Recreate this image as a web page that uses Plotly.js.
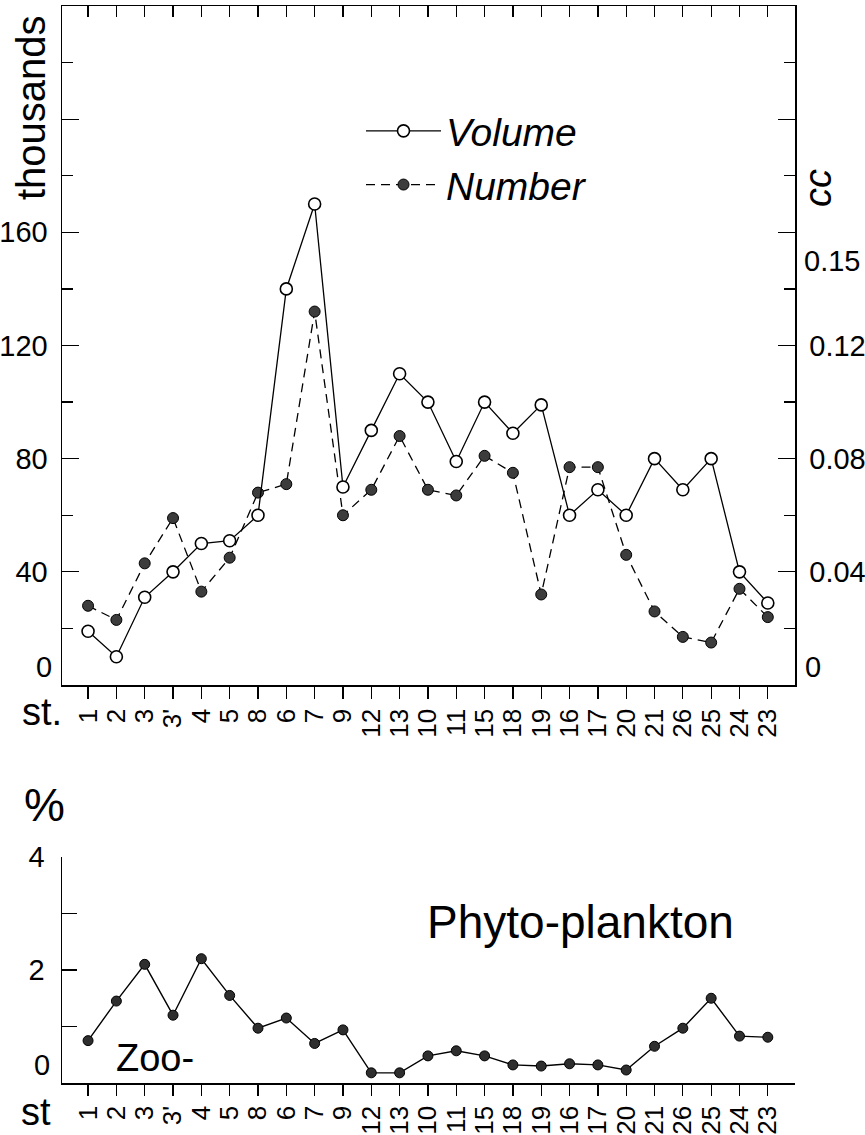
<!DOCTYPE html>
<html>
<head>
<meta charset="utf-8">
<script src="https://cdn.plot.ly/plotly-3.0.1.min.js"></script>
<style>
html,body{margin:0;padding:0;background:#fff;}
#chart{width:865px;height:1135px;}
</style>
</head>
<body>
<div id="chart"></div>
<script>
// ---- data ----
const stations = ['1','2','3',"3'",'4','5','8','6','7','9','12','13','10','11','15','18','19','16','17','20','21','26','25','24','23'];
// Volume of plankton (cc), right axis of upper panel
const volumeCC = [0.019,0.010,0.031,0.040,0.050,0.051,0.060,0.140,0.170,0.070,0.090,0.110,0.100,0.079,0.100,0.089,0.099,0.060,0.069,0.060,0.080,0.069,0.080,0.040,0.029];
// Number of individuals (thousands), left axis of upper panel
const numberK = [28,23,43,59,33,45,68,71,132,60,69,88,69,67,81,75,32,77,77,46,26,17,15,34,24];
// Zooplankton share (%), lower panel
const zooPct = [0.75,1.45,2.1,1.2,2.2,1.55,0.97,1.15,0.7,0.94,0.18,0.18,0.48,0.57,0.48,0.32,0.3,0.34,0.32,0.23,0.65,0.97,1.5,0.83,0.81];

const leftTicksTop = [0,40,80,120,160,200,240];
const leftTextTop = ['','40','80','120','160','',''];
const rightTicksTop = [0,0.04,0.08,0.12,0.16,0.20,0.24];
const rightTextTop = ['','0.04','0.08','0.12','','',''];
const leftTicksBot = [0,2,4];
const leftTextBot = ['','2','4'];
const rightTicksBot = [96,98,100];
const rightTextBot = ['96.','98','100'];

// ---- geometry helpers (pixels -> paper) ----
const ML = 62, MR = 70, MT = 6, MB = 52, W = 865, H = 1135;
const PW = W - ML - MR, PH = H - MT - MB;
const xp = px => (px - ML) / PW;
const yp = py => (H - MB - py) / PH;

const FONT = "Liberation Sans, Arial, sans-serif";
const XR = [-0.92, 24.96];
const topDom = [yp(685), 1];
const botDom = [0, yp(857)];

const traces = [
  {
    x: stations, y: volumeCC, xaxis: 'x', yaxis: 'y2', name: 'Volume',
    mode: 'lines+markers',
    line: {color: '#000', width: 1.3},
    marker: {symbol: 'circle', size: 12, color: '#fff', line: {color: '#000', width: 1.6}},
    cliponaxis: false
  },
  {
    x: stations, y: numberK, xaxis: 'x', yaxis: 'y', name: 'Number',
    mode: 'lines+markers',
    line: {color: '#000', width: 1.3, dash: '9px,6px'},
    marker: {symbol: 'circle', size: 11, color: '#3c3c3c', line: {color: '#000', width: 1}},
    cliponaxis: false
  },
  {
    // invisible companion so the top frame axis is bound to the same categories
    x: stations, y: numberK, xaxis: 'x3', yaxis: 'y', name: 'frame',
    mode: 'lines', opacity: 0, showlegend: false, hoverinfo: 'skip',
    line: {color: 'rgba(0,0,0,0)', width: 0}
  },
  {
    x: stations, y: zooPct, xaxis: 'x2', yaxis: 'y3', name: 'Zoo',
    mode: 'lines+markers', showlegend: false,
    line: {color: '#000', width: 1.4},
    marker: {symbol: 'circle', size: 10, color: '#2e2e2e', line: {color: '#000', width: 1}},
    cliponaxis: false
  }
];

const tickFont = {family: FONT, size: 29, color: '#000'};
const xTickFont = {family: FONT, size: 26, color: '#000'};

const layout = {
  width: W, height: H,
  margin: {l: ML, r: MR, t: MT, b: MB},
  paper_bgcolor: '#fff', plot_bgcolor: '#fff',
  showlegend: true,
  legend: {
    x: xp(361), y: yp(99), xanchor: 'left', yanchor: 'top',
    bgcolor: 'rgba(0,0,0,0)', itemwidth: 75,
    font: {family: FONT, size: 39, style: 'italic', color: '#000'},
    traceorder: 'normal'
  },
  xaxis: {
    type: 'category', range: XR, domain: [0, 1], anchor: 'y',
    tickmode: 'linear', tick0: 0, dtick: 1,
    showline: true, linecolor: '#000', linewidth: 1.5,
    ticks: 'outside', ticklen: 12, tickwidth: 1.3, tickcolor: '#000',
    tickangle: -90, tickfont: xTickFont, showgrid: false, zeroline: false
  },
  xaxis3: {
    type: 'category', range: XR, overlaying: 'x', side: 'top', anchor: 'y',
    tickmode: 'linear', tick0: 0, dtick: 1,
    showline: true, linecolor: '#000', linewidth: 1.5,
    ticks: 'inside', ticklen: 11, tickwidth: 1.3, tickcolor: '#000',
    showticklabels: false, showgrid: false, zeroline: false
  },
  yaxis: {
    domain: topDom, range: [0, 240], anchor: 'x',
    tickmode: 'array', tickvals: leftTicksTop, ticktext: leftTextTop,
    ticks: 'inside', ticklen: 17, tickwidth: 1.3, tickcolor: '#000',
    minor: {dtick: 20, ticks: 'inside', ticklen: 11, tickwidth: 1.3, tickcolor: '#000'},
    showline: true, linecolor: '#000', linewidth: 1.5,
    tickfont: tickFont, ticklabelstandoff: 7,
    showgrid: false, zeroline: false
  },
  yaxis2: {
    range: [0, 0.24], overlaying: 'y', side: 'right', anchor: 'x',
    tickmode: 'array', tickvals: rightTicksTop, ticktext: rightTextTop,
    ticks: 'inside', ticklen: 17, tickwidth: 1.3, tickcolor: '#000',
    minor: {dtick: 0.02, ticks: 'inside', ticklen: 11, tickwidth: 1.3, tickcolor: '#000'},
    showline: true, linecolor: '#000', linewidth: 1.5,
    tickfont: tickFont, ticklabelstandoff: 7,
    showgrid: false, zeroline: false
  },
  xaxis2: {
    type: 'category', range: XR, domain: [0, 1], anchor: 'y3',
    tickmode: 'linear', tick0: 0, dtick: 1,
    showline: true, linecolor: '#000', linewidth: 1.5,
    ticks: 'outside', ticklen: 11, tickwidth: 1.3, tickcolor: '#000',
    tickangle: -90, tickfont: xTickFont, showgrid: false, zeroline: false
  },
  yaxis3: {
    domain: botDom, range: [0, 4], anchor: 'x2',
    tickmode: 'array', tickvals: leftTicksBot, ticktext: leftTextBot,
    ticks: '',
    minor: {tickmode: 'array', tickvals: [1, 2, 3], ticks: 'inside', ticklen: 15, tickwidth: 1.3, tickcolor: '#000'},
    showline: true, linecolor: '#000', linewidth: 1.5,
    tickfont: tickFont, ticklabelstandoff: 10,
    showgrid: false, zeroline: false
  },
  yaxis4: {
    range: [100, 96], overlaying: 'y3', side: 'right', anchor: 'x2',
    tickmode: 'array', tickvals: rightTicksBot, ticktext: rightTextBot,
    ticks: '',
    minor: {tickmode: 'array', tickvals: [97, 98, 99], ticks: 'inside', ticklen: 15, tickwidth: 1.3, tickcolor: '#000'},
    showline: true, linecolor: '#000', linewidth: 1.5,
    tickfont: tickFont, ticklabelstandoff: 10,
    showgrid: false, zeroline: false
  },
  annotations: [
    {text: 'thousands', xref: 'paper', yref: 'paper', x: xp(31), y: yp(108), textangle: -90,
     showarrow: false, xanchor: 'center', yanchor: 'middle', font: {family: FONT, size: 40, color: '#000'}},
    {text: 'cc', xref: 'paper', yref: 'paper', x: xp(818), y: yp(188), textangle: -90,
     showarrow: false, xanchor: 'center', yanchor: 'middle', font: {family: FONT, size: 38, style: 'italic', color: '#000'}},
    {text: '0.15', xref: 'paper', yref: 'y2', x: xp(802), y: 0.15,
     showarrow: false, xanchor: 'left', yanchor: 'middle', font: tickFont},
    {text: '0', xref: 'paper', yref: 'y', x: xp(54), y: 0,
     showarrow: false, xanchor: 'right', yanchor: 'bottom', font: tickFont},
    {text: '0', xref: 'paper', yref: 'y2', x: xp(803), y: 0,
     showarrow: false, xanchor: 'left', yanchor: 'bottom', font: tickFont},
    {text: '0', xref: 'paper', yref: 'y3', x: xp(52), y: 0,
     showarrow: false, xanchor: 'right', yanchor: 'bottom', font: tickFont},
    {text: 'st.', xref: 'paper', yref: 'paper', x: xp(42), y: yp(712),
     showarrow: false, xanchor: 'center', yanchor: 'middle', font: {family: FONT, size: 38, color: '#000'}},
    {text: '%', xref: 'paper', yref: 'paper', x: xp(44), y: yp(805),
     showarrow: false, xanchor: 'center', yanchor: 'middle', font: {family: FONT, size: 46, color: '#000'}},
    {text: 'Phyto-plankton', xref: 'paper', yref: 'paper', x: xp(580), y: yp(922),
     showarrow: false, xanchor: 'center', yanchor: 'middle', font: {family: FONT, size: 46, color: '#000'}},
    {text: 'Zoo-', xref: 'paper', yref: 'paper', x: xp(155), y: yp(1058),
     showarrow: false, xanchor: 'center', yanchor: 'middle', font: {family: FONT, size: 38, color: '#000'}},
    {text: 'st', xref: 'paper', yref: 'paper', x: xp(36), y: yp(1112),
     showarrow: false, xanchor: 'center', yanchor: 'middle', font: {family: FONT, size: 38, color: '#000'}}
  ]
};

Plotly.newPlot('chart', traces, layout, {staticPlot: true, displayModeBar: false});
</script>
</body>
</html>
